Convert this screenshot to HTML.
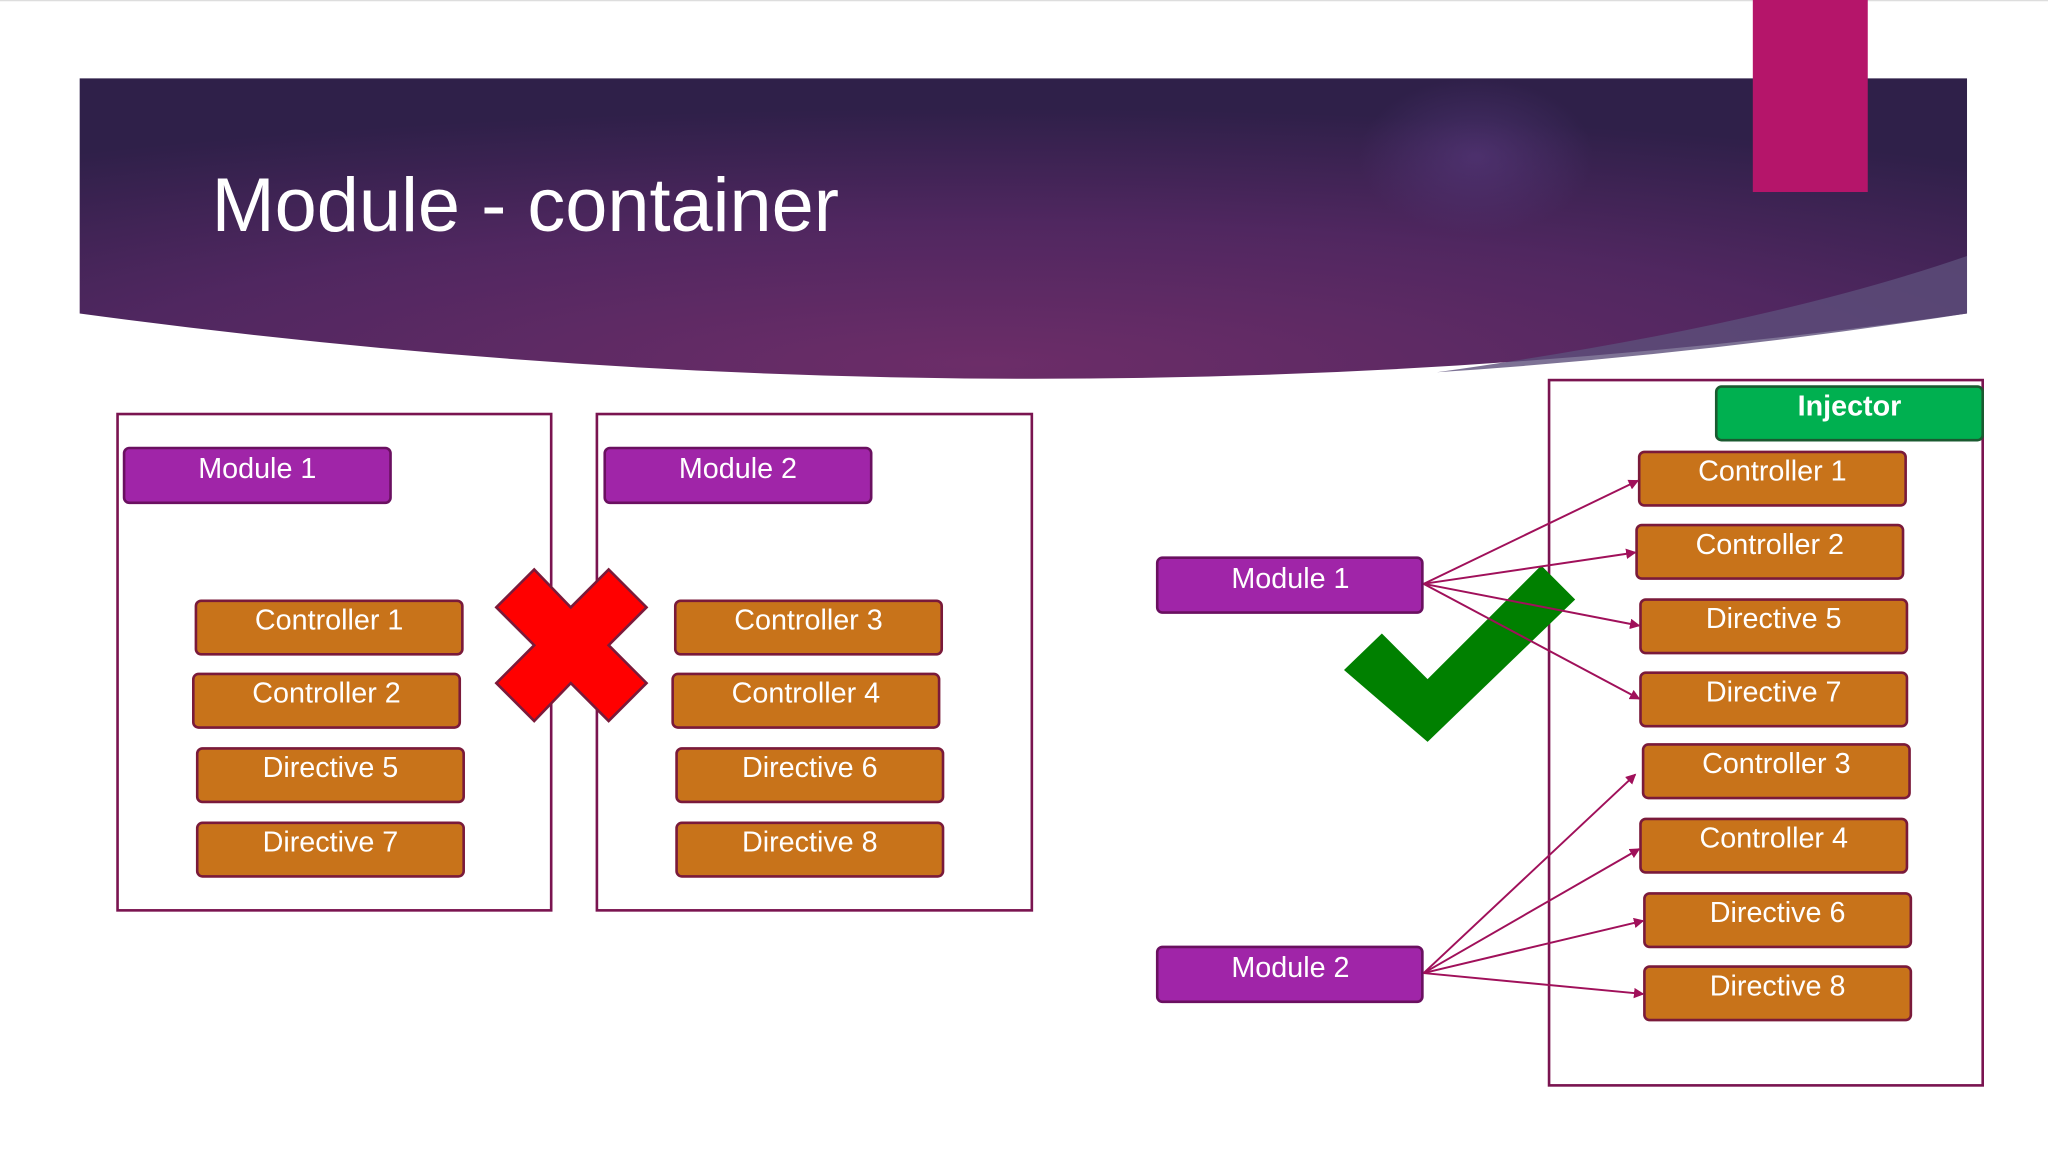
<!DOCTYPE html>
<html><head><meta charset="utf-8"><style>
html,body{margin:0;padding:0;background:#fff;}
svg{display:block;}
text{font-family:"Liberation Sans","DejaVu Sans",sans-serif;}
</style></head><body>
<svg width="2048" height="1152" viewBox="0 0 1568 882" xmlns="http://www.w3.org/2000/svg">
<defs>
<radialGradient id="hg" cx="0.48" cy="0.95" r="0.85">
<stop offset="0" stop-color="#6c2d68"/>
<stop offset="0.55" stop-color="#502760"/>
<stop offset="1" stop-color="#2f2049"/>
</radialGradient>
<radialGradient id="glow" cx="0.5" cy="0.5" r="0.5">
<stop offset="0" stop-color="#5a3a80" stop-opacity="0.6"/>
<stop offset="1" stop-color="#5a3a80" stop-opacity="0"/>
</radialGradient>
<marker id="ar" markerWidth="8" markerHeight="8" refX="7" refY="4" orient="auto" markerUnits="userSpaceOnUse">
<path d="M0,0 L8,4 L0,8 z" fill="#a0105a"/>
</marker>
</defs>
<rect width="1568" height="882" fill="#fff"/>
<line x1="0" y1="0.5" x2="1568" y2="0.5" stroke="#ddd"/>
<path d="M61,60 L1506,60 L1506,240 Q800,340 61,240 Z" fill="url(#hg)"/>
<ellipse cx="1130" cy="120" rx="90" ry="60" fill="url(#glow)"/>
<path d="M1100,285 Q1350,250 1506,196 L1506,240 Q1300,272 1100,285 Z" fill="#5c4f7a" opacity="0.8"/>
<rect x="1342" y="0" width="88" height="147" fill="#b5156a"/>
<text x="162" y="177" font-size="58" fill="#fff">Module - container</text>

<g fill="none" stroke="#7a1450" stroke-width="2">
<rect x="90" y="317" width="332" height="380"/>
<rect x="457" y="317" width="333" height="380"/>
<rect x="1186" y="291" width="332" height="540"/>
</g>

<g stroke="#6a1060" stroke-width="2" fill="#a025a8">
<rect x="95" y="343" width="204" height="42" rx="4"/>
<rect x="463" y="343" width="204" height="42" rx="4"/>
<rect x="886" y="427" width="203" height="42" rx="4"/>
<rect x="886" y="725" width="203" height="42" rx="4"/>
</g>
<rect x="1314" y="296" width="204" height="41" rx="4" fill="#00b050" stroke="#1a5a30" stroke-width="2"/>

<g stroke="#7a1a3a" stroke-width="2" fill="#c8731a">
<rect x="150" y="460" width="204" height="41" rx="4"/>
<rect x="148" y="516" width="204" height="41" rx="4"/>
<rect x="151" y="573" width="204" height="41" rx="4"/>
<rect x="151" y="630" width="204" height="41" rx="4"/>
<rect x="517" y="460" width="204" height="41" rx="4"/>
<rect x="515" y="516" width="204" height="41" rx="4"/>
<rect x="518" y="573" width="204" height="41" rx="4"/>
<rect x="518" y="630" width="204" height="41" rx="4"/>
<rect x="1255" y="346" width="204" height="41" rx="4"/>
<rect x="1253" y="402" width="204" height="41" rx="4"/>
<rect x="1256" y="459" width="204" height="41" rx="4"/>
<rect x="1256" y="515" width="204" height="41" rx="4"/>
<rect x="1258" y="570" width="204" height="41" rx="4"/>
<rect x="1256" y="627" width="204" height="41" rx="4"/>
<rect x="1259" y="684" width="204" height="41" rx="4"/>
<rect x="1259" y="740" width="204" height="41" rx="4"/>
</g>

<g font-size="22" fill="#fff" text-anchor="middle">
<text x="197" y="366">Module 1</text>
<text x="565" y="366">Module 2</text>
<text x="988" y="450">Module 1</text>
<text x="988" y="748">Module 2</text>
<text x="1416" y="318" font-weight="bold" fill="#fff">Injector</text>
<text x="252" y="482">Controller 1</text>
<text x="250" y="538">Controller 2</text>
<text x="253" y="595">Directive 5</text>
<text x="253" y="652">Directive 7</text>
<text x="619" y="482">Controller 3</text>
<text x="617" y="538">Controller 4</text>
<text x="620" y="595">Directive 6</text>
<text x="620" y="652">Directive 8</text>
<text x="1357" y="368">Controller 1</text>
<text x="1355" y="424">Controller 2</text>
<text x="1358" y="481">Directive 5</text>
<text x="1358" y="537">Directive 7</text>
<text x="1360" y="592">Controller 3</text>
<text x="1358" y="649">Controller 4</text>
<text x="1361" y="706">Directive 6</text>
<text x="1361" y="762">Directive 8</text>
</g>

<polygon points="380,465 409,436 437,465 466,436 495,465 466,494 495,523 466,552 437,523 409,552 380,523 409,494" fill="#ff0000" stroke="#7a1a3a" stroke-width="2"/>
<polygon points="1029,513 1058,485 1093,520 1180,433 1206,459 1093,568" fill="#008000"/>

<g stroke="#a0105a" stroke-width="1.5" fill="none" marker-end="url(#ar)">
<line x1="1090" y1="447" x2="1254" y2="368"/>
<line x1="1090" y1="447" x2="1252" y2="423"/>
<line x1="1090" y1="447" x2="1255" y2="479"/>
<line x1="1090" y1="447" x2="1255" y2="535"/>
<line x1="1090" y1="745" x2="1252" y2="593"/>
<line x1="1090" y1="745" x2="1255" y2="650"/>
<line x1="1090" y1="745" x2="1258" y2="705"/>
<line x1="1090" y1="745" x2="1258" y2="761"/>
</g>
</svg>
</body></html>
